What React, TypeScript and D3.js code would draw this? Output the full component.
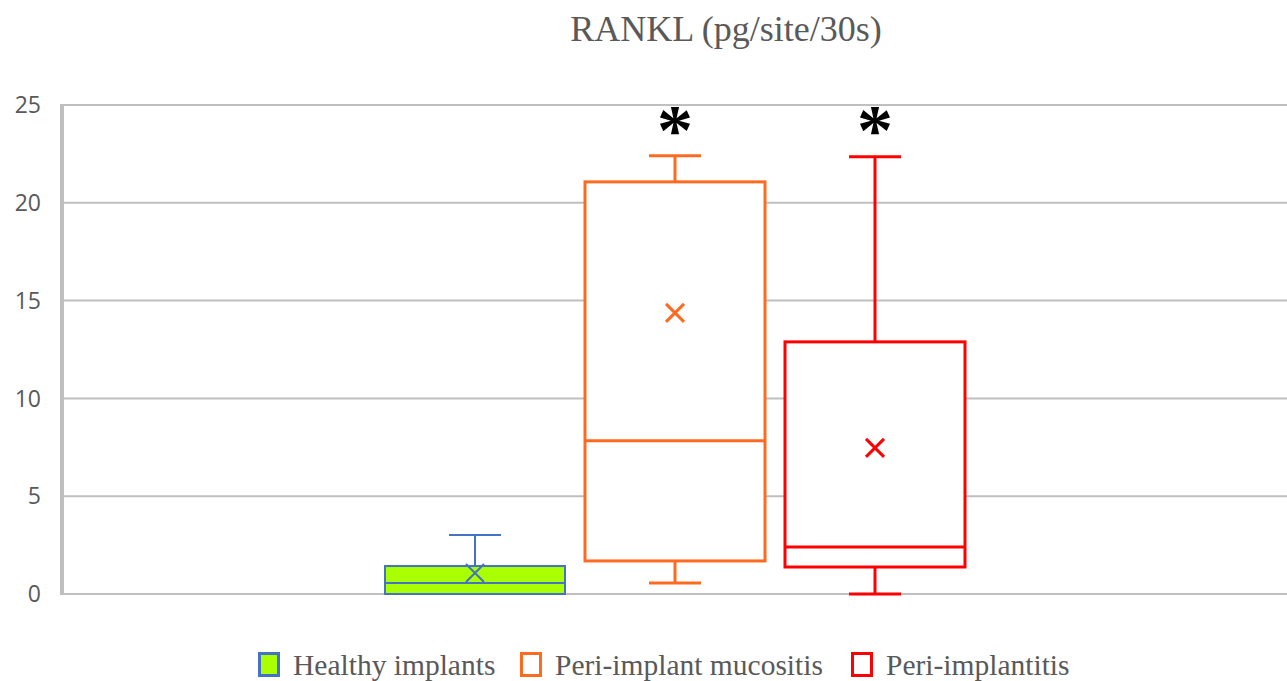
import React from "react";
import * as d3 from "d3";

const groups = ["Healthy implants", "Peri-implant mucositis", "Peri-implantitis"];
const whiskerLow = [0, 0.56, 0];
const q1 = [0, 1.69, 1.38];
const median = [0.56, 7.83, 2.4];
const q3 = [1.43, 21.07, 12.89];
const whiskerHigh = [3.02, 22.4, 22.35];
const means = [1.07, 14.37, 7.47];
const strokes = ["#4472C4", "#FF6A21", "#FF0000"];
const fills = ["#AAFF00", "#FFFFFF", "#FFFFFF"];
const strokeW = [2, 3, 3];
const starred = [false, true, true];
const yTicks = [0, 5, 10, 15, 20, 25];

const W = 1287;
const H = 681;

const App = () => {
  const y = d3.scaleLinear().domain([0, 25]).range([594, 105]);
  const x = d3.scaleBand().domain(groups).range([375, 975]).paddingInner(0.1).paddingOuter(0.05);
  const bw = x.bandwidth();
  const legendX = [258, 520, 851];

  return (
    <svg width={W} height={H} style={{ position: "absolute", left: 0, top: 0, background: "#fff" }}>
      <text x={726} y={41} textAnchor="middle" fontFamily="Liberation Serif, serif" fontSize={36} fill="#595959">
        RANKL (pg/site/30s)
      </text>
      {yTicks.map((t) => (
        <g key={t}>
          <line x1={62} x2={W} y1={y(t)} y2={y(t)} stroke="#BFBFBF" strokeWidth={2} />
          <text x={41} y={y(t)} dy="0.36em" textAnchor="end" fontFamily="Open Sans, sans-serif" fontSize={23} fill="#595959">
            {t}
          </text>
        </g>
      ))}
      <line x1={62} x2={62} y1={104} y2={595} stroke="#BFBFBF" strokeWidth={4} />
      {groups.map((g, i) => {
        const x0 = x(g)!;
        const cx = x0 + bw / 2;
        const c = strokes[i];
        const sw = strokeW[i];
        const cap = 26;
        const m = 9;
        return (
          <g key={g}>
            <line x1={cx} x2={cx} y1={y(whiskerHigh[i])} y2={y(q3[i])} stroke={c} strokeWidth={sw} />
            <line x1={cx} x2={cx} y1={y(q1[i])} y2={y(whiskerLow[i])} stroke={c} strokeWidth={sw} />
            <line x1={cx - cap} x2={cx + cap} y1={y(whiskerHigh[i])} y2={y(whiskerHigh[i])} stroke={c} strokeWidth={sw} />
            <line x1={cx - cap} x2={cx + cap} y1={y(whiskerLow[i])} y2={y(whiskerLow[i])} stroke={c} strokeWidth={sw} />
            <rect x={x0} y={y(q3[i])} width={bw} height={y(q1[i]) - y(q3[i])} fill={fills[i]} stroke={c} strokeWidth={sw} />
            <line x1={x0} x2={x0 + bw} y1={y(median[i])} y2={y(median[i])} stroke={c} strokeWidth={sw} />
            <path
              d={`M${cx - m},${y(means[i]) - m}L${cx + m},${y(means[i]) + m}M${cx - m},${y(means[i]) + m}L${cx + m},${y(means[i]) - m}`}
              stroke={c}
              strokeWidth={sw}
            />
            {starred[i] && (
              <text x={cx} y={154} textAnchor="middle" fontFamily="Liberation Serif, serif" fontWeight="bold" fontSize={72} fill="#000">
                *
              </text>
            )}
          </g>
        );
      })}
      {groups.map((g, i) => (
        <g key={"lg" + g}>
          <rect x={legendX[i] + 1.5} y={653.5} width={19} height={22} fill={fills[i]} stroke={strokes[i]} strokeWidth={3} />
          <text x={legendX[i] + 35} y={675} fontFamily="Liberation Serif, serif" fontSize={29.5} fill="#595959">
            {g}
          </text>
        </g>
      ))}
    </svg>
  );
};

export default App;
